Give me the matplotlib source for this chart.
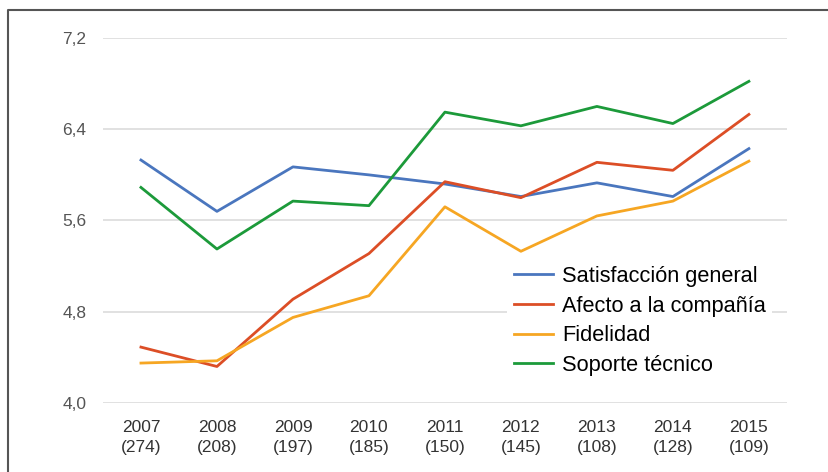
import matplotlib.pyplot as plt
from matplotlib.lines import Line2D

plt.rcParams['font.family'] = ['Liberation Sans', 'DejaVu Sans']

years = ['2007', '2008', '2009', '2010', '2011', '2012', '2013', '2014', '2015']
counts = ['274', '208', '197', '185', '150', '145', '108', '128', '109']

satisfaccion = [6.13, 5.68, 6.07, 6.00, 5.92, 5.81, 5.93, 5.81, 6.23]
afecto = [4.49, 4.32, 4.91, 5.31, 5.94, 5.80, 6.11, 6.04, 6.53]
fidelidad = [4.35, 4.37, 4.75, 4.94, 5.72, 5.33, 5.64, 5.77, 6.12]
soporte = [5.89, 5.35, 5.77, 5.73, 6.55, 6.43, 6.60, 6.45, 6.82]

labels = ['Satisfacción general', 'Afecto a la compañía', 'Fidelidad', 'Soporte técnico']
colors = ['#4A76BE', '#DC4E26', '#F6A623', '#1C9A3A']
yticks = [4.0, 4.8, 5.6, 6.4, 7.2]

fig = plt.figure(figsize=(8.29, 4.72), dpi=100)
ax = fig.add_axes([0.1242, 0.1462, 0.825, 0.7733])

x = list(range(len(years)))
for vals, lab, col in zip([satisfaccion, afecto, fidelidad, soporte], labels, colors):
    ax.plot(x, vals, color=col, lw=2.0, label=lab, zorder=3)

ax.set_xlim(-0.5, len(years) - 0.5)
ax.set_ylim(4.0, 7.2)
ax.set_yticks(yticks)
ax.set_yticklabels([f'{v:.1f}'.replace('.', ',') for v in yticks])
ax.set_xticks(x)
ax.set_xticklabels([f'{y}\n({c})' for y, c in zip(years, counts)], linespacing=1.45)
ax.tick_params(axis='y', length=0, pad=12, labelsize=12.5, labelcolor='#555555')
ax.tick_params(axis='x', length=0, pad=12, labelsize=12.5, labelcolor='#333333')
ax.grid(axis='y', color='#dcdcdc', lw=1.2)
ax.set_axisbelow(True)
for s in ax.spines.values():
    s.set_visible(False)

leg = ax.legend(loc='center', bbox_to_anchor=(0.785, 0.225), fontsize=15.7,
                frameon=True, facecolor='white', edgecolor='none', framealpha=1,
                handlelength=1.8, handletextpad=0.4, labelspacing=0.4,
                borderpad=0.3, fancybox=False)
leg.set_zorder(4)

# outer border (left and top only visible)
fig.add_artist(Line2D([0.0097, 0.0097, 1.0], [0.0, 0.9788, 0.9788],
                      transform=fig.transFigure, color='#555555', lw=1.5))

fig.savefig('out.png', dpi=100)
